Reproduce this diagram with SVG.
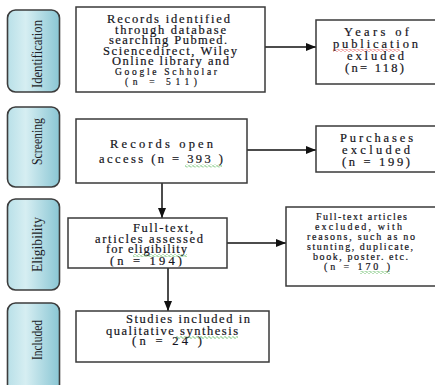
<svg xmlns="http://www.w3.org/2000/svg" width="435" height="385" viewBox="0 0 435 385">
<style>
.box{fill:#fff;stroke:#3a3a3a;stroke-width:1.5}
.tab{fill:url(#tg);stroke:#3d3d3d;stroke-width:1.6}
.t{font-family:"Liberation Serif","Times New Roman",serif;font-size:12.5px;fill:#141420;stroke:#141420;stroke-width:0.2}
.s{font-size:9.5px}
.m{font-size:10px}
.tt{font-family:"Liberation Serif","Times New Roman",serif;font-size:15px;fill:#1e1e28;text-anchor:middle}
.c{stroke:#111;stroke-width:1.5;fill:none}
</style>
<defs>
<linearGradient id="tg" x1="0" y1="0" x2="1" y2="0">
<stop offset="0" stop-color="#b9e0e8"/>
<stop offset="0.35" stop-color="#d6eef2"/>
<stop offset="1" stop-color="#8ac6d4"/>
</linearGradient>
<marker id="ah" markerWidth="10" markerHeight="8" refX="10" refY="4" orient="auto" markerUnits="userSpaceOnUse">
<path d="M0,0 L10,4 L0,8 Z" fill="#111"/>
</marker>
<pattern id="wg" width="4" height="3" patternUnits="userSpaceOnUse">
<path d="M0,1.5 L1,0.5 L3,2.5 L4,1.5" stroke="#3caa3c" stroke-width="0.8" fill="none"/>
</pattern>
<pattern id="wr" width="4" height="3" patternUnits="userSpaceOnUse">
<path d="M0,1.5 L1,0.5 L3,2.5 L4,1.5" stroke="#e03030" stroke-width="0.8" fill="none"/>
</pattern>
<clipPath id="cf"><rect x="69" y="219" width="157" height="47.5"/></clipPath>
</defs>

<g id="tab-identification">
<rect class="tab" x="7.5" y="10" width="52" height="82" rx="8"/>
<text class="tt" transform="translate(42,54) rotate(-90)" textLength="68" lengthAdjust="spacingAndGlyphs">Identification</text>
</g>
<g id="tab-screening">
<rect class="tab" x="7.5" y="107" width="52" height="80" rx="8"/>
<text class="tt" transform="translate(42,141.5) rotate(-90)" textLength="47" lengthAdjust="spacingAndGlyphs">Screening</text>
</g>
<g id="tab-eligibility">
<rect class="tab" x="7.5" y="199" width="52" height="91" rx="8"/>
<text class="tt" transform="translate(42,244.5) rotate(-90)" textLength="55" lengthAdjust="spacingAndGlyphs">Eligibility</text>
</g>
<g id="tab-included">
<rect class="tab" x="7.5" y="303" width="52" height="100" rx="8"/>
<text class="tt" transform="translate(42,340) rotate(-90)" textLength="40" lengthAdjust="spacingAndGlyphs">Included</text>
</g>

<g id="connectors">
<line class="c" x1="265" y1="47" x2="316" y2="47" marker-end="url(#ah)"/>
<line class="c" x1="247" y1="150" x2="316" y2="150" marker-end="url(#ah)"/>
<line class="c" x1="162" y1="183" x2="162" y2="218" marker-end="url(#ah)"/>
<line class="c" x1="227" y1="243" x2="286" y2="243" marker-end="url(#ah)"/>
<line class="c" x1="168" y1="268" x2="168" y2="311" marker-end="url(#ah)"/>
</g>

<g id="records-identified">
<rect class="box" x="76" y="7" width="189" height="85"/>
<text class="t" x="107" y="23" textLength="123">Records identified</text>
<text class="t" x="115" y="33.5" textLength="111">through database</text>
<text class="t" x="109" y="44" textLength="118">searching Pubmed.</text>
<text class="t" x="103" y="55" textLength="134">Sciencedirect, Wiley</text>
<text class="t" x="112" y="65" textLength="117">Online library and</text>
<text class="t s" x="115" y="75" textLength="102">Google Schholar</text>
<text class="t s" x="125" y="85" textLength="72">(n = 511)</text>
</g>

<g id="years-excluded">
<rect class="box" x="316" y="20" width="122" height="64"/>
<text class="t" x="344" y="36" textLength="65">Years of</text>
<text class="t" x="333" y="48" textLength="85">publication</text>
<rect x="333" y="49" width="67" height="3" fill="url(#wr)"/>
<text class="t" x="347" y="60" textLength="57">exluded</text>
<text class="t" x="345" y="72" textLength="59">(n= 118)</text>
</g>

<g id="records-open">
<rect class="box" x="76" y="119" width="171" height="64"/>
<text class="t" x="110" y="148" textLength="103">Records open</text>
<text class="t" x="99" y="163" textLength="124">access (n = 393 )</text>
<rect x="185" y="164.5" width="37" height="3" fill="url(#wg)"/>
</g>

<g id="purchases-excluded">
<rect class="box" x="316" y="126" width="122" height="46"/>
<text class="t" x="340" y="142" textLength="73">Purchases</text>
<text class="t" x="342" y="154" textLength="68">excluded</text>
<text class="t" x="342" y="166" textLength="68">(n = 199)</text>
</g>

<g id="full-text-assessed">
<rect class="box" x="68" y="218" width="159" height="50"/>
<text class="t" x="133" y="232" textLength="60">Full-text,</text>
<text class="t" x="95" y="243" textLength="108">articles assessed</text>
<text class="t" x="106" y="253" textLength="81">for eligibility</text>
<rect x="133" y="254" width="54" height="3" fill="url(#wg)"/>
<text class="t" x="110" y="265" textLength="72" clip-path="url(#cf)">(n = 194)</text>
</g>

<g id="full-text-excluded">
<rect class="box" x="286" y="207" width="152" height="79"/>
<text class="t m" x="316" y="220" textLength="91">Full-text articles</text>
<text class="t m" x="315" y="229.5" textLength="87">excluded, with</text>
<text class="t m" x="307" y="239.5" textLength="108">reasons, such as no</text>
<text class="t m" x="307" y="249.5" textLength="106">stunting, duplicate,</text>
<text class="t m" x="313" y="260" textLength="95">book, poster. etc.</text>
<text class="t m" x="324" y="270" textLength="66">(n = 170 )</text>
<rect x="360" y="271" width="30" height="3" fill="url(#wg)"/>
</g>

<g id="studies-included">
<rect class="box" x="76" y="311" width="193" height="51"/>
<text class="t" x="126" y="323" textLength="124">Studies included in</text>
<text class="t" x="106" y="335" textLength="132">qualitative synthesis</text>
<rect x="175" y="336" width="63" height="3" fill="url(#wg)"/>
<text class="t" x="132" y="345" textLength="70">(n = 24 )</text>
</g>
</svg>
